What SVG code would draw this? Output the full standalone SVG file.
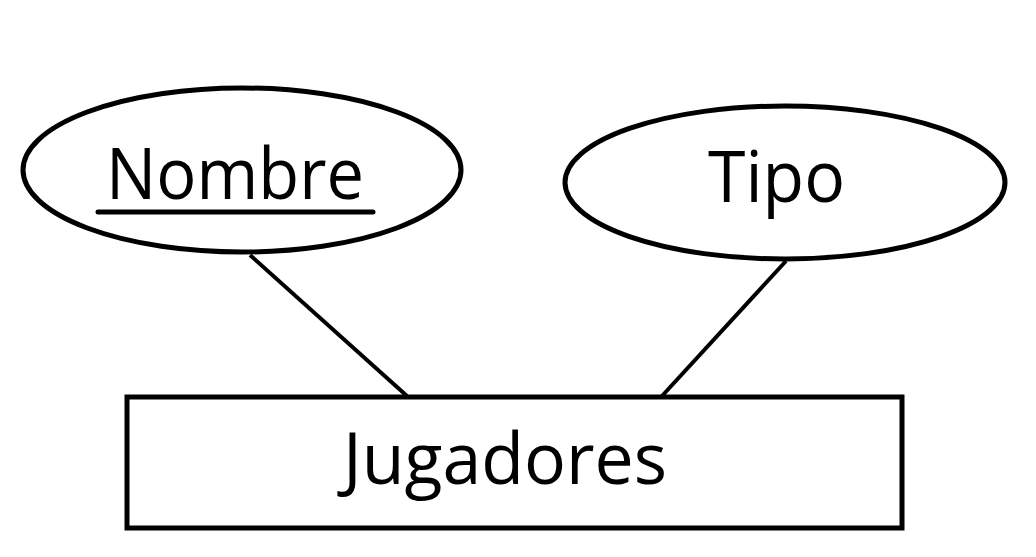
<svg xmlns="http://www.w3.org/2000/svg" width="1036" height="557" viewBox="0 0 1036 557">
<style>
.shape{fill:#fff;stroke:#000;stroke-width:5}
.conn{stroke:#000;stroke-width:4;fill:none}
.lbl{font-family:"Open Sans","Noto Sans","Liberation Sans",sans-serif;font-size:71px;fill:#000}
</style>
<rect width="1036" height="557" fill="#fff"/>
<g id="connectors">
<line class="conn" x1="250" y1="255" x2="407" y2="396"/>
<line class="conn" x1="786" y1="261" x2="662" y2="396"/>
</g>
<g id="nombre">
<ellipse class="shape" cx="242" cy="170" rx="219" ry="82"/>
<text class="lbl" x="106" y="199" textLength="258" lengthAdjust="spacingAndGlyphs">Nombre</text>
<line x1="98" y1="212" x2="373" y2="212" stroke="#000" stroke-width="5" stroke-linecap="round"/>
</g>
<g id="tipo">
<ellipse class="shape" cx="785" cy="182.5" rx="220" ry="76.5"/>
<text class="lbl" x="708" y="202" textLength="137" lengthAdjust="spacingAndGlyphs">Tipo</text>
</g>
<g id="jugadores">
<rect class="shape" x="127" y="397" width="775" height="131"/>
<text class="lbl" x="343" y="484" textLength="324" lengthAdjust="spacingAndGlyphs">Jugadores</text>
</g>
</svg>
